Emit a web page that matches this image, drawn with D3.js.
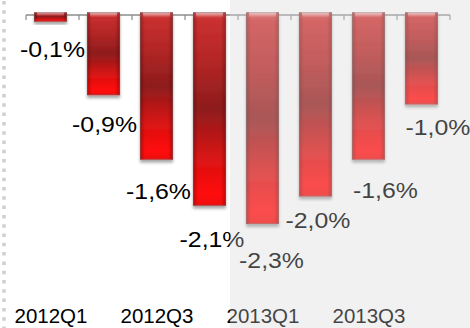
<!DOCTYPE html>
<html>
<head>
<meta charset="utf-8">
<script src="https://cdn.jsdelivr.net/npm/d3@7"></script>
<style>
  body { margin: 0; background: #fff; }
  svg { display: block; }
</style>
</head>
<body>
<svg id="chart" width="470" height="328"></svg>
<script>
// Quarterly change, in percent
const quarters = ["2012Q1", "2012Q2", "2012Q3", "2012Q4", "2013Q1", "2013Q2", "2013Q3", "2013Q4"];
const growth = [-0.1, -0.9, -1.6, -2.1, -2.3, -2.0, -1.6, -1.0];
const axisLabels = ["2012Q1", "2012Q3", "2013Q1", "2013Q3"];
const forecastFrom = "2013Q1";

const W = 470, H = 328;
const svg = d3.select("#chart");
const defs = svg.append("defs");

// Scales
const xc = d3.scaleBand().domain(quarters).range([26, 450]).padding(0);
const x = d3.scaleBand().domain(quarters).range([26, 450])
  .paddingInner(0.377).paddingOuter(0.189).align(0.4);
const y = d3.scaleLinear().domain([0, -2.3]).range([12.3, 224]);

// Gradients for the glossy bars
const vg = defs.append("linearGradient").attr("id", "barV")
  .attr("x1", 0).attr("y1", 0).attr("x2", 0).attr("y2", 1);
[[0, "#d85a5a"], [0.04, "#c93030"], [0.25, "#b42626"], [0.5, "#8e1c1c"],
 [0.75, "#d81414"], [0.94, "#ff0a0a"], [1, "#ee0a0a"]]
  .forEach(([o, c]) => vg.append("stop").attr("offset", o).attr("stop-color", c));

const hg = defs.append("linearGradient").attr("id", "barH")
  .attr("x1", 0).attr("y1", 0).attr("x2", 1).attr("y2", 0);
[[0, 0.35], [0.15, 0], [0.85, 0], [1, 0.35]]
  .forEach(([o, a]) => hg.append("stop").attr("offset", o)
    .attr("stop-color", "#3a0000").attr("stop-opacity", a));

const tg = defs.append("linearGradient").attr("id", "barTop")
  .attr("x1", 0).attr("y1", 0).attr("x2", 0).attr("y2", 1);
[[0, 0.6], [1, 0]].forEach(([o, a]) => tg.append("stop").attr("offset", o)
  .attr("stop-color", "#fff").attr("stop-opacity", a));

const sh = defs.append("filter").attr("id", "shadow")
  .attr("x", "-30%").attr("y", "-30%").attr("width", "160%").attr("height", "160%");
sh.append("feDropShadow").attr("dx", 0).attr("dy", 3).attr("stdDeviation", 1.6)
  .attr("flood-color", "#000").attr("flood-opacity", 0.35);

// Backgrounds: white, with a grey panel for the forecast quarters
svg.append("rect").attr("width", W).attr("height", H).attr("fill", "#fff");
const panelX = xc(forecastFrom) - 8;
svg.append("rect").attr("x", panelX).attr("y", 0)
  .attr("width", W - panelX).attr("height", H).attr("fill", "#f2f2f2");

// Dotted left border
svg.append("line").attr("x1", 4).attr("x2", 4).attr("y1", 1).attr("y2", H)
  .attr("stroke", "#cfcfcf").attr("stroke-width", 3.5)
  .attr("stroke-dasharray", "3.5,5.8");

// Category axis at zero with ticks on the band boundaries
const y0 = 15;
const axis = svg.append("g");
axis.append("line").attr("x1", xc.range()[0]).attr("x2", xc.range()[1])
  .attr("y1", y0).attr("y2", y0).attr("stroke", "#8c8c8c").attr("stroke-width", 1.5);
const bounds = quarters.map(q => xc(q)).concat([xc.range()[1]]);
axis.selectAll("line.tick").data(bounds).join("line").attr("class", "tick")
  .attr("x1", d => d).attr("x2", d => d).attr("y1", y0).attr("y2", y0 + 5)
  .attr("stroke", "#8c8c8c").attr("stroke-width", 1.2);

// Bars
const bars = svg.append("g").selectAll("g").data(quarters).join("g")
  .attr("transform", q => `translate(${x(q)},${y(0)})`);
const bw = x.bandwidth();
const bh = (q, i) => y(growth[i]) - y(0);
bars.append("rect").attr("width", bw).attr("height", bh)
  .attr("fill", "url(#barV)").attr("filter", "url(#shadow)");
bars.append("rect").attr("width", bw).attr("height", bh).attr("fill", "url(#barH)");
bars.append("rect").attr("x", 3).attr("width", bw - 6)
  .attr("height", (q, i) => Math.min(5, bh(q, i) * 0.4)).attr("fill", "url(#barTop)");
bars.append("rect").attr("x", 0.4).attr("y", 0.4).attr("width", bw - 0.8)
  .attr("height", (q, i) => bh(q, i) - 0.8)
  .attr("fill", "none").attr("stroke", "rgba(110,110,110,0.55)").attr("stroke-width", 0.8);

// Value labels below the bars (nudged apart where they would collide)
const nudge = [[2, 0], [1, 2], [2, 4], [2.5, 6], [9, 9], [2.5, -3], [17, 3], [16.5, -4]];
const fmt = v => d3.format(".1f")(v).replace("−", "-").replace(".", ",") + "%";
svg.append("g").selectAll("text").data(quarters).join("text")
  .attr("transform", (q, i) =>
    `translate(${x(q) + bw / 2 + nudge[i][0]},${y(growth[i]) + 35 + nudge[i][1]}) scale(1.13,1)`)
  .attr("text-anchor", "middle")
  .attr("font-family", "'Liberation Sans', Arial, sans-serif")
  .attr("font-size", 22).attr("fill", "#000")
  .text((q, i) => fmt(growth[i]));

// Category labels
svg.append("g").selectAll("text").data(axisLabels).join("text")
  .attr("x", q => xc(q) + xc.bandwidth() / 2 - 1.5).attr("y", 322.5)
  .attr("text-anchor", "middle")
  .attr("font-family", "'Liberation Sans', Arial, sans-serif")
  .attr("font-size", 20.5).attr("fill", "#000")
  .text(q => q);

// Haze over the forecast quarters
svg.append("rect").attr("x", panelX).attr("y", 0)
  .attr("width", W - panelX).attr("height", H)
  .attr("fill", "#f2f2f2").attr("opacity", 0.28);
</script>
</body>
</html>
